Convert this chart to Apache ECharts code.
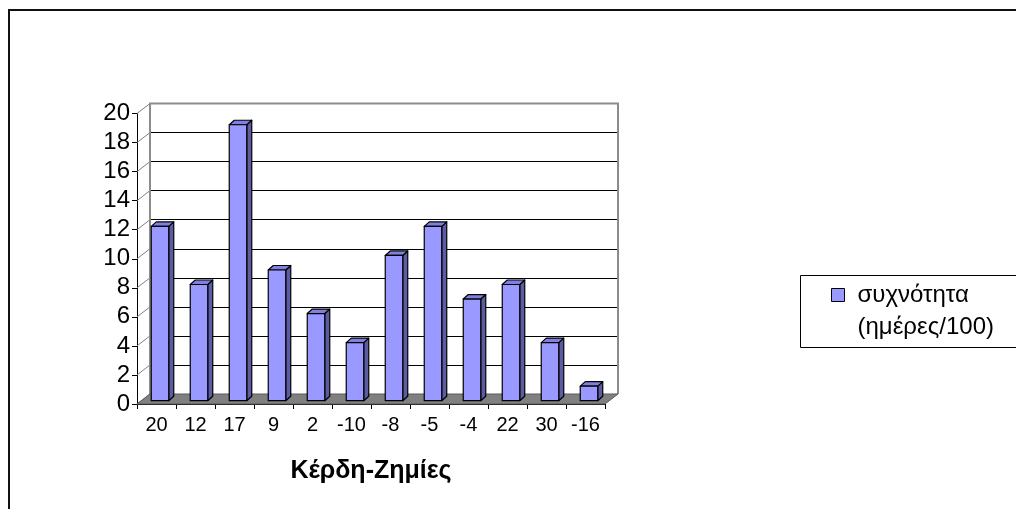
<!DOCTYPE html>
<html>
<head>
<meta charset="utf-8">
<script src="https://cdn.jsdelivr.net/npm/echarts@6/dist/echarts.min.js"></script>
<style>
  html, body { margin: 0; padding: 0; background: #fff; }
  #chart { width: 1016px; height: 509px; }
</style>
</head>
<body>
<div id="chart"></div>
<script>
// Profit/loss buckets and how often each occurred (days per 100)
const categories = ['20', '12', '17', '9', '2', '-10', '-8', '-5', '-4', '22', '30', '-16'];
const frequency = [12, 8, 19, 9, 6, 4, 10, 12, 7, 8, 4, 1];
const seriesName = 'συχνότητα\n(ημέρες/100)';
const axisTitle = 'Κέρδη-Ζημίες';
const yMin = 0, yMax = 20, yStep = 2;

const FONT = 'Liberation Sans, Arial, sans-serif';

// Back wall of the 3D box and the shift from back plane to front plane
const BACK = { left: 150, top: 103.5, width: 468, height: 290.5 };
const DEPTH = { dx: -13, dy: 10 };
// Column geometry: front face offset from the back category centre, width, and extrusion
const BAR = { shiftX: -9.5, shiftY: 6.7, width: 17.5, sideX: 5, sideY: -4.5 };

const FACE = '#9999ff', SIDE = '#5c5ca3', TOP = '#8080e0';

const tickValues = [];
for (let v = yMin; v <= yMax; v += yStep) tickValues.push(v);

const chart = echarts.init(document.getElementById('chart'), null, { renderer: 'canvas' });

// Floor, wall edges and side-wall grid lines of the 3D box
function renderScene(params, api) {
  const cs = params.coordSys;
  const x0 = cs.x, x1 = cs.x + cs.width;
  const yt = cs.y, yb = cs.y + cs.height;
  const children = [];
  tickValues.forEach(function (v) {
    const y = api.coord([0, v])[1];
    children.push({
      type: 'line',
      shape: { x1: x0 + DEPTH.dx, y1: y + DEPTH.dy, x2: x0, y2: y },
      style: { stroke: '#808080', lineWidth: 1 }
    });
  });
  children.push({
    type: 'polyline',
    shape: { points: [[x0, yb], [x0, yt], [x1, yt], [x1, yb]] },
    style: { stroke: '#8c8c8c', lineWidth: 2, fill: null }
  });
  children.push({
    type: 'polygon',
    shape: { points: [[x0 + DEPTH.dx, yb + DEPTH.dy], [x1 + DEPTH.dx, yb + DEPTH.dy], [x1, yb], [x0, yb]] },
    style: { fill: '#808080', stroke: '#5a5a5a', lineWidth: 1 }
  });
  return { type: 'group', children: children };
}

// One extruded column: front face, right side and top
function renderBar(params, api) {
  const idx = api.value(0);
  const top = api.coord([idx, api.value(1)]);
  const base = api.coord([idx, 0]);
  const l = top[0] + BAR.shiftX - BAR.width / 2;
  const r = l + BAR.width;
  const t = top[1] + BAR.shiftY;
  const b = base[1] + BAR.shiftY;
  const sx = BAR.sideX, sy = BAR.sideY;
  const edge = { stroke: '#000', lineWidth: 1.2, lineJoin: 'round' };
  return {
    type: 'group',
    children: [
      { type: 'polygon', shape: { points: [[r, t], [r + sx, t + sy], [r + sx, b + sy], [r, b]] },
        style: Object.assign({ fill: SIDE }, edge) },
      { type: 'polygon', shape: { points: [[l, t], [l + sx, t + sy], [r + sx, t + sy], [r, t]] },
        style: Object.assign({ fill: TOP }, edge) },
      { type: 'rect', shape: { x: l, y: t, width: BAR.width, height: b - t },
        style: Object.assign({ fill: FACE }, edge) }
    ]
  };
}

const option = {
  backgroundColor: '#fff',
  animation: false,
  textStyle: { fontFamily: FONT },
  grid: [
    { left: BACK.left, top: BACK.top, width: BACK.width, height: BACK.height,
      containLabel: false, outerBoundsMode: 'none' },
    { left: BACK.left + DEPTH.dx, top: BACK.top + DEPTH.dy, width: BACK.width, height: BACK.height,
      containLabel: false, outerBoundsMode: 'none' }
  ],
  xAxis: [
    { gridIndex: 0, type: 'category', data: categories,
      axisLine: { show: false }, axisTick: { show: false }, axisLabel: { show: false } },
    { gridIndex: 1, type: 'category', data: categories,
      axisLine: { show: true, lineStyle: { color: '#000', width: 1 } },
      axisTick: { show: true, length: 5, lineStyle: { color: '#000' } },
      axisLabel: { fontSize: 20, color: '#000', margin: 11, fontFamily: FONT },
      name: axisTitle, nameLocation: 'middle', nameGap: 55,
      nameTextStyle: { fontSize: 25, fontWeight: 'bold', color: '#000', fontFamily: FONT } }
  ],
  yAxis: [
    { gridIndex: 0, type: 'value', min: yMin, max: yMax, interval: yStep,
      axisLine: { show: false }, axisTick: { show: false }, axisLabel: { show: false },
      splitLine: { show: true, lineStyle: { color: '#000', width: 1 } } },
    { gridIndex: 1, type: 'value', min: yMin, max: yMax, interval: yStep,
      axisLine: { show: true, lineStyle: { color: '#000', width: 1 } },
      axisTick: { show: true, length: 5, lineStyle: { color: '#000' } },
      axisLabel: { fontSize: 24, color: '#000', margin: 7, fontFamily: FONT },
      splitLine: { show: false } }
  ],
  legend: {
    left: 831, top: 247, padding: 0,
    icon: 'rect', itemWidth: 13, itemHeight: 13,
    itemStyle: { borderColor: '#000', borderWidth: 1 },
    // leading blank line keeps the first text line level with the swatch
    formatter: function (name) { return '\n' + name; },
    textStyle: { fontSize: 24, lineHeight: 32, padding: [0, 0, 0, 8], color: '#000', fontFamily: FONT },
    data: [seriesName]
  },
  graphic: [
    { type: 'rect', silent: true, z: -1,
      shape: { x: 9, y: 10, width: 1100, height: 600 },
      style: { fill: null, stroke: '#111', lineWidth: 2 } },
    { type: 'rect', silent: true,
      shape: { x: 800.5, y: 275.5, width: 300, height: 72 },
      style: { fill: null, stroke: '#000', lineWidth: 1 } }
  ],
  series: [
    { type: 'custom', name: 'scene', xAxisIndex: 0, yAxisIndex: 0, silent: true, z: 1,
      renderItem: renderScene, data: [[0, 0]] },
    { type: 'custom', name: seriesName, xAxisIndex: 0, yAxisIndex: 0, z: 3,
      itemStyle: { color: FACE },
      renderItem: renderBar,
      data: frequency.map(function (v, i) { return [i, v]; }) }
  ]
};

chart.setOption(option);
</script>
</body>
</html>
